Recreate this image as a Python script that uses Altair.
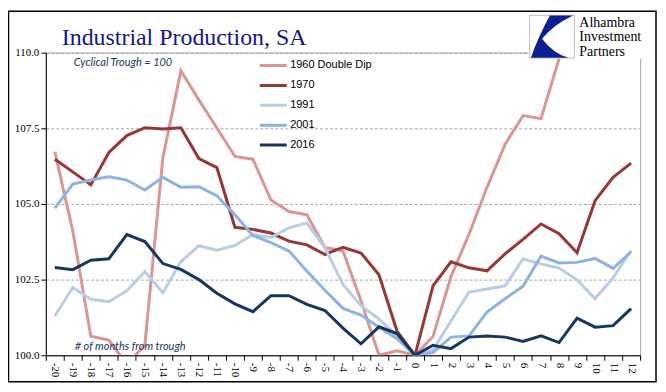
import altair as alt
import pandas as pd

months = list(range(-20, 13))
series_names = ["1960 Double Dip", "1970", "1991", "2001", "2016"]
colors = ["#D99694", "#953735", "#B9CDE5", "#8EB4E3", "#17375E"]
widths = [3, 3, 3.5, 3.5, 4.5]

v1960 = [106.72, 104.1, 100.63, 100.5, 99.7, 100.34, 106.53, 109.40, 108.44, 107.51,
         106.57, 106.48, 105.13, 104.75, 104.64, 103.56, 103.45, 101.8, 100.0, 100.15,
         100.0, 100.62, 102.6, 104.0, 105.55, 106.97, 107.92, 107.82, 109.8]
v1970 = [106.48, 106.06, 105.63, 106.70, 107.26, 107.52, 107.48, 107.52, 106.50, 106.20,
         104.23, 104.16, 104.04, 103.77, 103.65, 103.33, 103.57, 103.38, 102.66, 100.8,
         100.0, 102.29, 103.09, 102.89, 102.79, 103.35, 103.83, 104.34, 104.02, 103.39,
         105.11, 105.88, 106.35]
v1991 = [101.30, 102.24, 101.85, 101.77, 102.13, 102.76, 102.07, 103.09, 103.62, 103.47,
         103.63, 103.99, 103.89, 104.21, 104.37, 103.55, 102.34, 101.64, 101.2, 100.64,
         100.0, 100.17, 101.13, 102.09, 102.19, 102.29, 103.18, 103.02, 102.88, 102.49,
         101.87, 102.56, 103.47]
v2001 = [104.86, 105.66, 105.79, 105.90, 105.79, 105.46, 105.88, 105.55, 105.57, 105.27,
         104.64, 103.96, 103.72, 103.45, 102.78, 102.15, 101.55, 101.33, 100.93, 100.55,
         100.0, 100.09, 100.6, 100.64, 101.43, 101.87, 102.28, 103.28, 103.05, 103.07,
         103.2, 102.87, 103.42]
v2016 = [102.90, 102.83, 103.14, 103.19, 103.99, 103.76, 103.03, 102.84, 102.5, 102.05,
         101.7, 101.44, 101.97, 101.97, 101.68, 101.48, 100.90, 100.38, 100.94, 100.72,
         100.0, 100.33, 100.22, 100.6, 100.64, 100.6, 100.46, 100.64, 100.42, 101.23,
         100.93, 100.98, 101.54]

y_ticks = [100, 102.5, 105, 107.5, 110]

rows = []
for name, vals in zip(series_names, [v1960, v1970, v1991, v2001, v2016]):
    for m, v in zip(months, vals):
        rows.append({"month": m, "value": v, "series": name})
df = pd.DataFrame(rows)

one = pd.DataFrame({"k": [0]})

x_enc = alt.X(
    "month:O",
    sort=months,
    scale=alt.Scale(type="band", domain=months, paddingInner=0, paddingOuter=0),
    bandPosition=0.5,
    axis=alt.Axis(title=None, labelAngle=90, tickBand="extent", grid=False,
                  tickSize=5, labelPadding=2, labelFont="Liberation Serif",
                  labelFontSize=11, labelColor="black", domainColor="black",
                  tickColor="black"),
)
y_enc = alt.Y(
    "value:Q",
    scale=alt.Scale(domain=[100, 110], nice=False, zero=False),
    axis=alt.Axis(title=None, values=y_ticks, format=".1f", grid=True,
                  gridColor="#A6A6A6", gridDash=[3, 2], gridWidth=1,
                  tickSize=5, labelPadding=2, labelFont="Liberation Serif",
                  labelFontSize=11, labelColor="black", domainColor="black",
                  tickColor="black"),
)

lines = alt.Chart(df).mark_line(clip=True).encode(
    x=x_enc,
    y=y_enc,
    color=alt.Color(
        "series:N",
        scale=alt.Scale(domain=series_names, range=colors),
        legend=alt.Legend(title=None, orient="none", legendX=214, legendY=4,
                          symbolType="M-1.06,0H1.06", symbolSize=650,
                          symbolStrokeWidth=4, clipHeight=17.75,
                          labelFont="Liberation Sans", labelFontSize=11,
                          labelColor="black", labelOffset=2.5, rowPadding=2,
                          padding=0),
    ),
    strokeWidth=alt.StrokeWidth(
        "series:N", scale=alt.Scale(domain=series_names, range=widths), legend=None
    ),
)

frame = alt.Chart(one).mark_rect(filled=False, color="black", strokeWidth=1.5).encode(
    x=alt.value(-37.5), x2=alt.value(613), y=alt.value(-41.5), y2=alt.value(330.5)
)

title = alt.Chart(one).mark_text(
    font="Liberation Serif", fontSize=24, color="#16168a", align="left",
    baseline="alphabetic"
).encode(x=alt.value(16), y=alt.value(-7.5), text=alt.value("Industrial Production, SA"))

note1 = alt.Chart(one).mark_text(
    font="Lato", fontSize=11, fontStyle="italic", color="#17375E", align="left",
    baseline="middle"
).encode(x=alt.value(28), y=alt.value(10.5), text=alt.value("Cyclical Trough = 100"))

note2 = alt.Chart(one).mark_text(
    font="Lato", fontSize=11, fontStyle="italic", color="#17375E", align="left",
    baseline="middle"
).encode(x=alt.value(29), y=alt.value(296), text=alt.value("# of months from trough"))

logo_bg = alt.Chart(one).mark_rect(color="white").encode(
    x=alt.value(485), x2=alt.value(612), y=alt.value(-38), y2=alt.value(6)
)
logo_box = alt.Chart(one).mark_rect(filled=False, color="#BFBFBF", strokeWidth=1).encode(
    x=alt.value(486), x2=alt.value(531), y=alt.value(-37.5), y2=alt.value(5.5)
)
logo_mark = alt.Chart(one).mark_point(
    shape="M-0.1,-1 L1,-1 Q0.05,-0.55 -0.47,0.1 Q0.05,0.8 0.78,1 L-1,1 Q-0.65,0 -0.1,-1 Z",
    filled=True, color="#0d1f91", opacity=1, size=1800,
).encode(x=alt.value(508.5), y=alt.value(-16))

logo_lines = ["Alhambra", "Investment", "Partners"]
logo_text = [
    alt.Chart(one).mark_text(
        font="Liberation Serif", fontSize=14, color="black", align="left",
        baseline="alphabetic"
    ).encode(x=alt.value(536), y=alt.value(-26 + 14.5 * i), text=alt.value(t))
    for i, t in enumerate(logo_lines)
]

chart = alt.layer(
    frame, lines, title, note1, note2, logo_bg, logo_box, logo_mark, *logo_text
).properties(
    width=597, height=304,
    autosize=alt.AutoSizeParams(type="none"),
    padding={"left": 38, "top": 44, "right": 18, "bottom": 30},
    background="white",
).configure_view(stroke="#A6A6A6", strokeWidth=1)

chart.save("out.html", embed_options={"renderer": "svg", "actions": False})
